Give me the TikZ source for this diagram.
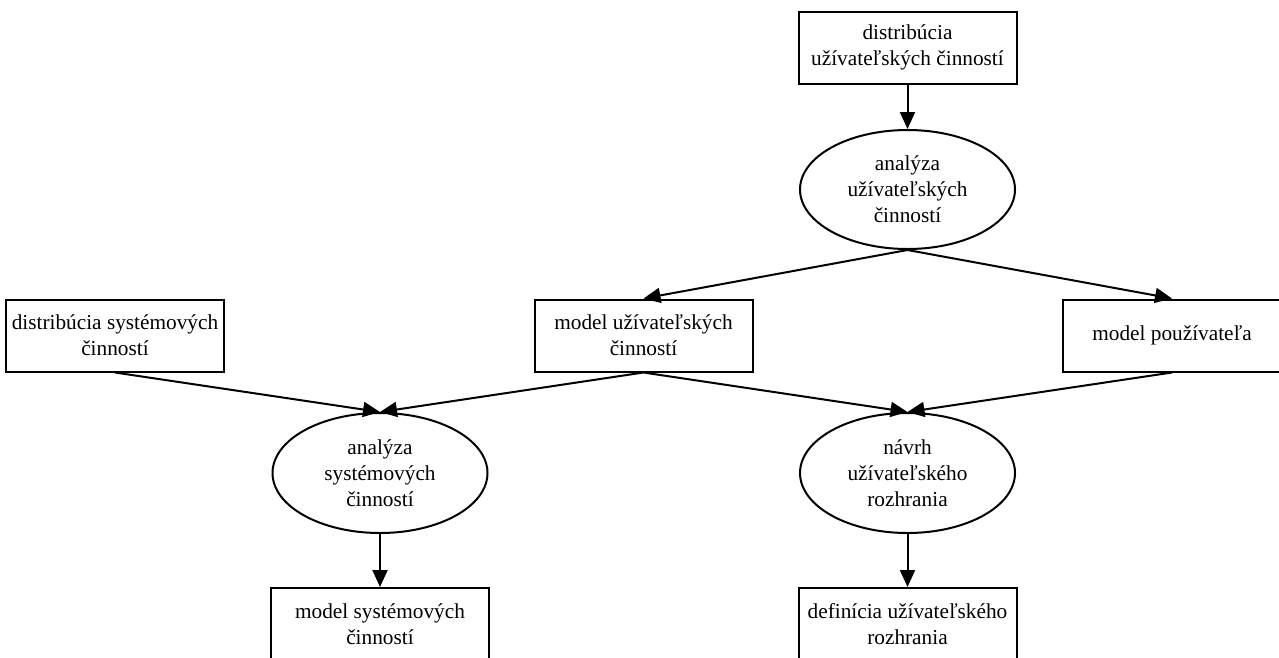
\documentclass[tikz,border=0pt]{standalone}
\usepackage{fontspec}
\setmainfont{Liberation Serif}
\usetikzlibrary{arrows.meta,shapes.geometric}

\begin{document}
\begin{tikzpicture}[x=1pt, y=-1pt,
      base/.style={rectangle, draw, line width=2pt, minimum width=218pt, minimum height=72pt, align=center, inner sep=2pt, font=\fontsize{21.3}{26}\selectfont},
      oval/.style={base, ellipse, inner sep=0pt, minimum width=215pt, minimum height=119pt},
      tok/.style={-{Triangle[length=17pt, width=15pt]}, line width=2pt}]
      \clip (0,0) rectangle (1279,657);
      % upper part
      \node[base] (distuziv) at (907.5,47.5) {distribúcia\\užívateľských činností};
      \node[oval] (analuziv) at (907.5,189.5) {analýza\\užívateľských\\činností};
      \node[base] (distsys) at (115,335.5) {distribúcia systémových\\činností};
      \node[base] (modeluziv) at (643.5,335.5) {model užívateľských\\činností};
      \node[base] (modelpouz) at (1172,335.5) {model používateľa};
      % lower part
      \node[oval, minimum height=120pt] (analsys) at (380,473) {analýza\\systémových\\činností};
      \node[oval, minimum height=120pt] (navrh) at (907.5,473) {návrh\\užívateľského\\rozhrania};
      \node[base] (modelsys) at (380,624) {model systémových\\činností};
      \node[base] (defuziv) at (907.5,624) {definícia užívateľského\\rozhrania};
      % connectors
      \draw[tok] (distuziv.south) -- (analuziv.north);
      \draw[tok] (analuziv.south) -- (modeluziv.north);
      \draw[tok] (analuziv.south) -- (modelpouz.north);
      \draw[tok] (distsys.south) -- (analsys.north);
      \draw[tok] (modeluziv.south) -- (analsys.north);
      \draw[tok] (modeluziv.south) -- (navrh.north);
      \draw[tok] (modelpouz.south) -- (navrh.north);
      \draw[tok] (analsys.south) -- (modelsys.north);
      \draw[tok] (navrh.south) -- (defuziv.north);
    \end{tikzpicture}
\end{document}
